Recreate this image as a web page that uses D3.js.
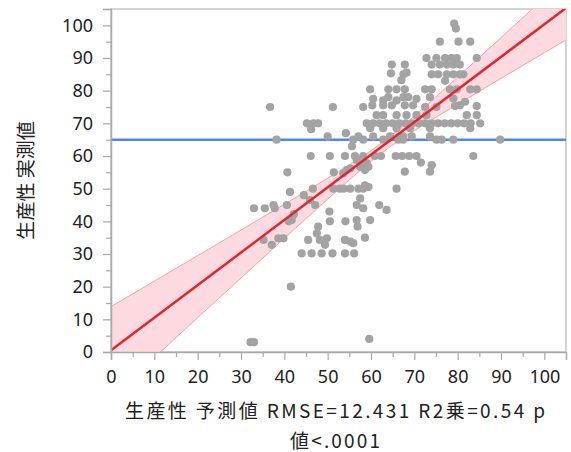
<!DOCTYPE html>
<html>
<head>
<meta charset="utf-8">
<script src="https://cdn.jsdelivr.net/npm/d3@7"></script>
<style>
  html, body { margin: 0; padding: 0; background: #fff; }
  svg { display: block; }
</style>
</head>
<body>
<svg id="chart" width="571" height="452"></svg>
<script>
// ---- data ----
const predicted = [
  79.2, 79.6,
  75.9, 80.2, 82.9,
  72.8, 75.1, 77.1, 78.6, 79.8, 84.4,
  64.8, 67.8, 74, 75.9, 77.5, 79, 80.5,
  64.6, 67.5, 74, 75.5, 77.5, 79, 80.5, 81.3, 68.2,
  67, 77.1,
  59.8, 64, 65.9, 67.8, 72.5, 74, 78.2, 79.8, 82.9, 84.4,
  60.5, 62.8, 64, 65.9, 67.5, 68.6, 70.5, 73.6, 79, 81.7,
  36.7, 51.2, 58.2, 60.3, 62.8, 64.8, 67.8, 69.7, 72.5, 75.1, 79.4, 80.5, 84.4,
  61.3, 62.8, 65.9, 68.2, 70.5, 72.8, 82.1, 84.4,
  45.2, 46.7, 47.8, 59, 60.5, 62, 63.5, 65, 66.5, 68, 69.5, 71, 72.5, 74, 75.5, 77, 78.5, 80, 81.5, 83, 85.2,
  46.2, 59.8, 62.8, 65.9, 69, 73.6, 82.9,
  54.2, 50, 57.1, 60.5, 64.4, 67.4, 69.4, 73.6,
  38.2, 55.9, 58.2, 62.8, 66.3, 67.4, 75.1, 76.3, 79, 89.8,
  55.6,
  46.1, 50.5, 54, 56.3, 58.2, 60.9, 62.3, 65.7, 67.2, 68.8, 70.5, 83.6,
  56.7, 58.2, 59, 71.5, 74,
  40.7, 51.4, 53.6, 54.4, 55.2, 57.5, 58.6, 59.4, 67.8, 73.6,
  46.6, 51.3, 52.8, 53.7, 55.2, 57.1, 58.2, 59.4, 65.9, 58.6,
  41.3, 44.5, 45.9, 47.1, 57.5,
  33, 35.5, 37.5, 37.8, 40.6, 56.7, 58.2, 61.9, 63.6, 50.4,
  42.2, 41.7, 41,
  50.5, 54.1, 56.7, 56.9, 59.8, 47.8,
  35.2, 37.1, 38.6, 39.8, 47.5, 45.5, 48.2, 49.8, 49.4, 54, 55.2, 55.9, 58.6,
  44, 46.3, 48.6, 51.1, 54, 56.1,
  41.5, 59.6, 32.2, 33
];
const actual = [
  100.5, 99,
  95, 95, 95,
  90, 90, 90, 90, 90, 90,
  88, 88, 88, 88, 88, 88, 88,
  85.3, 85, 85, 85, 85, 85, 85, 85, 85.5,
  83.2, 83,
  80.4, 80.4, 80.4, 80.4, 80.4, 80.4, 80.4, 80.4, 80.4, 80.4,
  77.5, 77, 78, 77, 78, 78, 77.5, 78, 77.6, 76.6,
  75, 75, 75, 75.5, 75.5, 75.5, 75.5, 75.5, 75, 75, 75.3, 75.5, 75.3,
  72.5, 72.5, 72.5, 72.5, 72.5, 72.5, 72.5, 72.5,
  70, 70, 70, 70, 70, 70, 70, 70, 70, 70, 70, 70, 70, 70, 70, 70, 70, 70, 70, 70, 70,
  68.2, 68.5, 68.5, 68.5, 68.5, 68.5, 68.5,
  67, 66, 66, 66, 66, 66, 66, 66,
  65, 65, 65, 65, 65, 65, 65, 65, 65, 65,
  63,
  60, 60, 60, 60, 60, 60, 60, 60, 60, 60, 60, 60,
  58.8, 57.8, 57.8, 58, 57.2,
  55, 55, 54.7, 55.7, 56.2, 56.7, 55.7, 56.7, 55.2, 55.2,
  50, 50, 50, 50, 50, 50, 50, 50.5, 50, 51,
  49, 48, 46.5, 45, 47,
  44, 44, 45, 44, 45, 45, 44, 45, 43.5, 43,
  42.2, 40.4, 40,
  40, 40, 40.4, 38.4, 40.4, 38.4,
  34.3, 32.8, 34.8, 34.8, 36.3, 34.3, 34.3, 34.8, 32.8, 34.3, 33.8, 33.3, 35,
  30.2, 30.2, 30.2, 30.2, 30.2, 30.2,
  20, 4, 3, 3
];
const fitX = [0, 105];
const fitY = [0.5, 105.3];
const bandX  = [0, 10, 20, 30, 40, 50, 55, 60, 62.6, 65, 70, 75, 80, 90, 100, 105];
const bandLo = [-13.9, -1.7, 10.5, 22.65, 34.8, 46.8, 52.7, 58.35, 61.05, 63.36, 67.75, 71.86, 75.86, 83.76, 91.61, 95.53];
const bandHi = [13.9, 21.7, 29.5, 37.35, 45.2, 53.2, 57.3, 61.65, 64.15, 66.64, 72.25, 78.14, 84.14, 96.24, 108.39, 114.47];
const meanY = [65];
const xTicks = [0, 10, 20, 30, 40, 50, 60, 70, 80, 90, 100];
const yTicks = [0, 10, 20, 30, 40, 50, 60, 70, 80, 90, 100];
const minorTicks = [5, 15, 25, 35, 45, 55, 65, 75, 85, 95];
const xTitle1 = "生産性 予測値 RMSE=12.431  R2乗=0.54 p";
const xTitle2 = "値<.0001";
const yTitle = "生産性 実測値";

// ---- layout ----
const svg = d3.select("#chart");
const L = 111, R = 566, T = 9, B = 352;
const x = d3.scaleLinear().domain([0, 105]).range([L, R]);
const y = d3.scaleLinear().domain([0, 105]).range([B, T]);

svg.append("defs").append("clipPath").attr("id", "clip")
  .append("rect").attr("x", L).attr("y", T).attr("width", R - L).attr("height", B - T);

// frame
svg.append("rect").attr("x", L).attr("y", T).attr("width", R - L).attr("height", B - T)
  .attr("fill", "none").attr("stroke", "#c6c6c6").attr("stroke-width", 1.5);

const plot = svg.append("g").attr("clip-path", "url(#clip)");

// confidence band
const band = bandX.map((v, i) => ({x: v, lo: bandLo[i], hi: bandHi[i]}));
plot.append("path").datum(band)
  .attr("d", d3.area().x(d => x(d.x)).y0(d => y(d.lo)).y1(d => y(d.hi)).curve(d3.curveMonotoneX))
  .attr("fill", "#fcdadf").attr("stroke", "none");
["lo", "hi"].forEach(k => {
  plot.append("path").datum(band)
    .attr("d", d3.line().x(d => x(d.x)).y(d => y(d[k])).curve(d3.curveMonotoneX))
    .attr("fill", "none").attr("stroke", "#f4a3ad").attr("stroke-width", 1);
});

// mean line
plot.selectAll("line.mean").data(meanY).join("line").attr("class", "mean")
  .attr("x1", L).attr("x2", R).attr("y1", d => y(d)).attr("y2", d => y(d))
  .attr("stroke", "#4f87ef").attr("stroke-width", 2.5);

// points
const pts = predicted.map((v, i) => ({x: v, y: actual[i]}));
plot.selectAll("circle").data(pts).join("circle")
  .attr("cx", d => x(d.x)).attr("cy", d => y(d.y)).attr("r", 4.1)
  .attr("fill", "#a3a3a3");

// fit line
plot.append("path").datum(fitX.map((v, i) => ({x: v, y: fitY[i]})))
  .attr("d", d3.line().x(d => x(d.x)).y(d => y(d.y)))
  .attr("stroke", "#e8222e").attr("stroke-width", 2.5).attr("fill", "none");

// axes
const axisColor = "#a9a9a9";
const xAxis = svg.append("g").attr("transform", `translate(0,${B})`)
  .call(d3.axisBottom(x).tickValues(xTicks).tickSize(8).tickPadding(6).tickFormat(d3.format("d")));
const yAxis = svg.append("g").attr("transform", `translate(${L},0)`)
  .call(d3.axisLeft(y).tickValues(yTicks).tickSize(8).tickPadding(10).tickFormat(d3.format("d")));
[xAxis, yAxis].forEach(g => {
  g.select(".domain").attr("stroke", axisColor).attr("stroke-width", 1.5);
  g.selectAll(".tick line").attr("stroke", axisColor).attr("stroke-width", 1.2);
  g.selectAll(".tick text").attr("fill", "#222")
    .style("font-family", "'Noto Sans', 'Open Sans', sans-serif").style("font-size", "18px");
});
xAxis.selectAll(".tick text").attr("dy", "0.95em");
svg.append("g").attr("transform", `translate(0,${B})`)
  .call(d3.axisBottom(x).tickValues(minorTicks).tickSize(5).tickFormat(""))
  .call(g => g.select(".domain").remove())
  .call(g => g.selectAll(".tick line").attr("stroke", axisColor).attr("stroke-width", 1.2));
svg.append("g").attr("transform", `translate(${L},0)`)
  .call(d3.axisLeft(y).tickValues(minorTicks).tickSize(5).tickFormat(""))
  .call(g => g.select(".domain").remove())
  .call(g => g.selectAll(".tick line").attr("stroke", axisColor).attr("stroke-width", 1.2));

// titles
const cjk = "'Noto Sans CJK JP', 'Noto Sans', sans-serif";
svg.append("text").attr("x", 125).attr("y", 418)
  .attr("textLength", 420).attr("lengthAdjust", "spacing")
  .style("font-family", cjk).style("font-size", "19px").attr("fill", "#222")
  .text(xTitle1);
svg.append("text").attr("x", 290).attr("y", 448)
  .attr("textLength", 90).attr("lengthAdjust", "spacing")
  .style("font-family", cjk).style("font-size", "19px").attr("fill", "#222")
  .text(xTitle2);
svg.append("text")
  .attr("transform", `translate(33,${(T + B) / 2}) rotate(-90)`)
  .attr("text-anchor", "middle")
  .style("font-family", cjk).style("font-size", "19px").attr("fill", "#222")
  .text(yTitle);
</script>
</body>
</html>
